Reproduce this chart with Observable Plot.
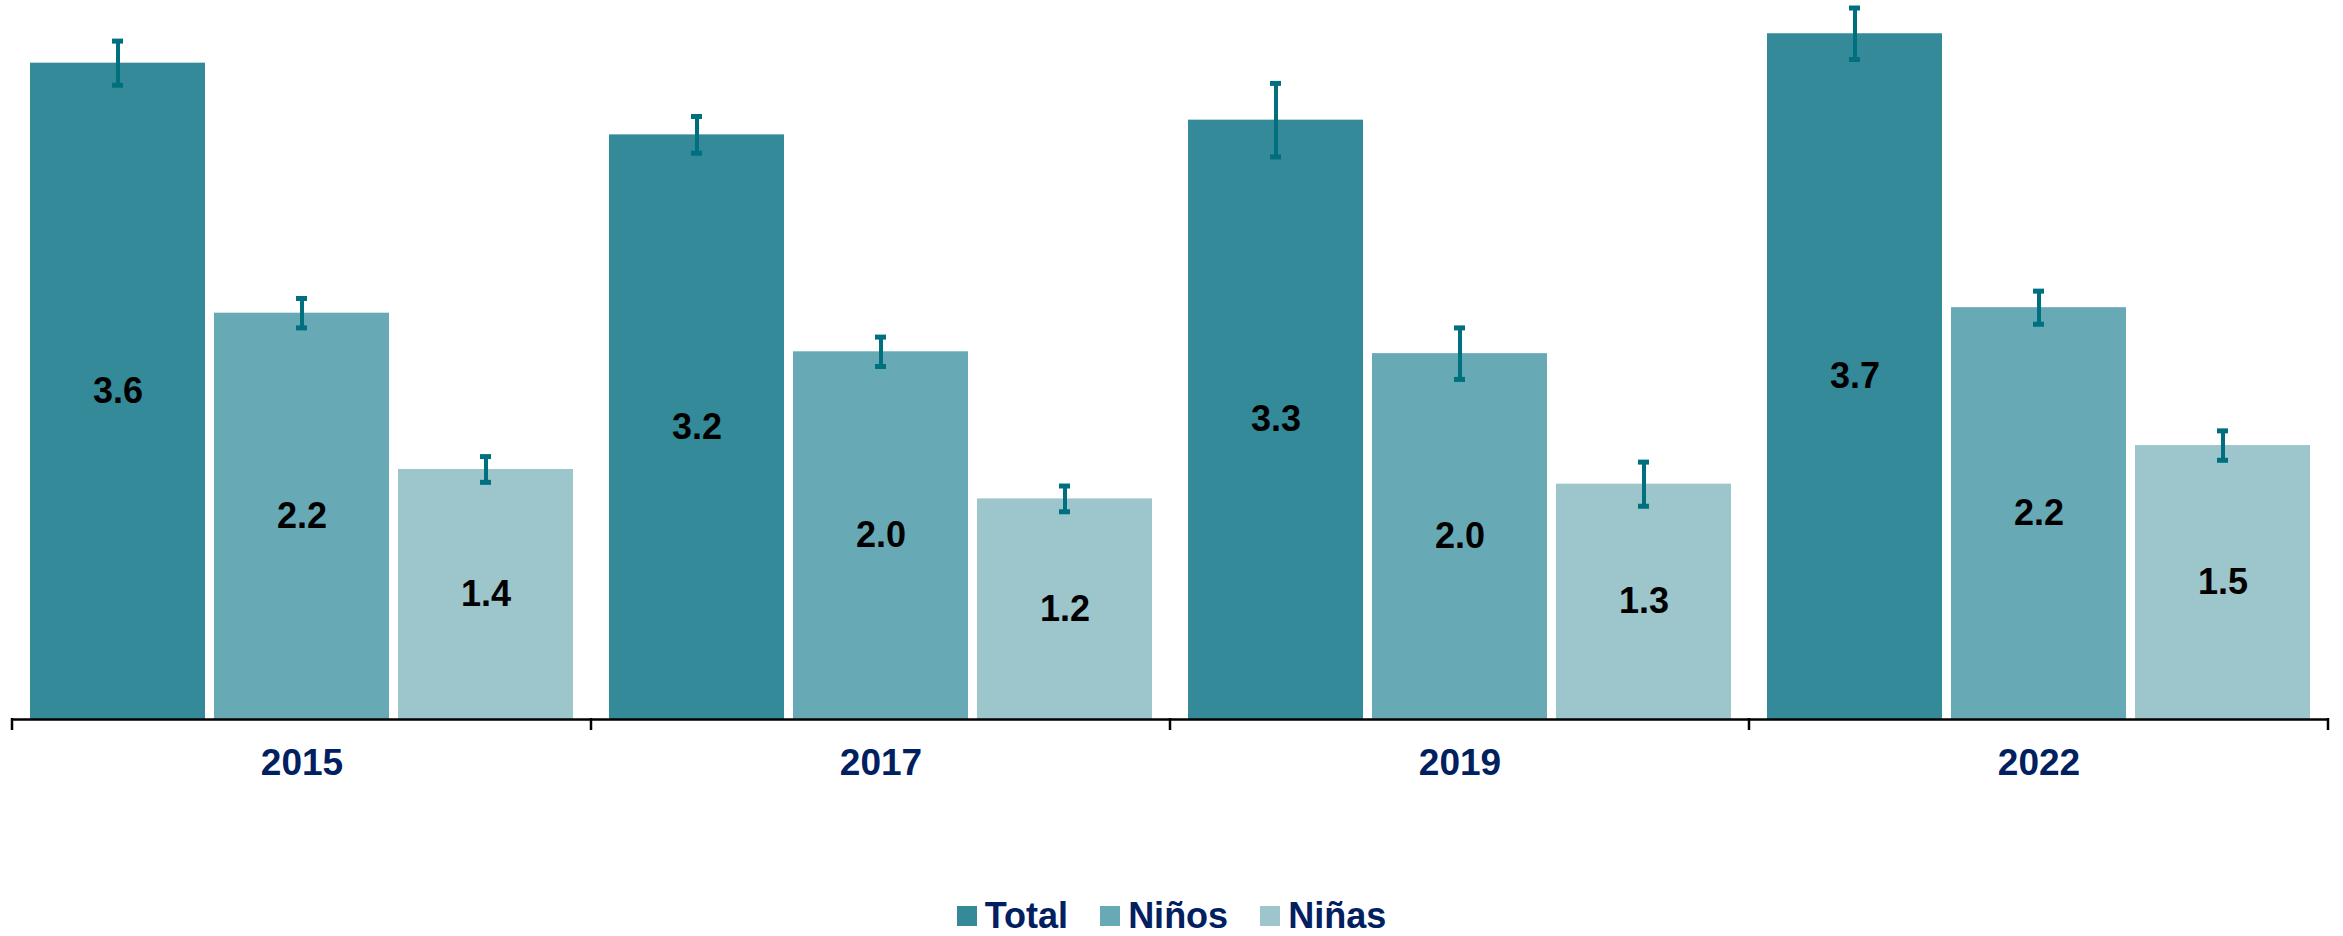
<!DOCTYPE html>
<html>
<head>
<meta charset="utf-8">
<script src="https://cdn.jsdelivr.net/npm/d3@7"></script>
<script src="https://cdn.jsdelivr.net/npm/@observablehq/plot@0.6"></script>
<style>
  body { margin: 0; background: #fff; font-family: "Liberation Sans", Arial, sans-serif; }
  #legend { display: flex; justify-content: center; align-items: center; gap: 32px; padding-top: 96px; height: 40px; }
  .item { display: flex; align-items: center; gap: 8px; font-weight: bold; font-size: 36px; color: #002060; line-height: 40px; }
  .sw { width: 20px; height: 20px; display: inline-block; }
</style>
</head>
<body>
<div id="chart"></div>
<div id="legend"></div>
<script>
const years = ["2015", "2017", "2019", "2022"];
const series = ["Total", "Niños", "Niñas"];
const totalValues = [3.57, 3.18, 3.26, 3.73];
const ninosValues = [2.21, 2.00, 1.99, 2.24];
const ninasValues = [1.36, 1.20, 1.28, 1.49];
const totalErr = [0.12, 0.10, 0.20, 0.14];
const ninosErr = [0.08, 0.08, 0.14, 0.09];
const ninasErr = [0.07, 0.07, 0.12, 0.08];
const colors = ["#348A99", "#67A9B5", "#9CC5CC"];
const errColor = "#006F7E";

const valuesBySeries = [totalValues, ninosValues, ninasValues];
const errBySeries = [totalErr, ninosErr, ninasErr];
const data = [];
years.forEach((year, i) => {
  series.forEach((s, j) => {
    data.push({year, series: s, value: valuesBySeries[j][i], err: errBySeries[j][i]});
  });
});

const font = '"Liberation Sans", Arial, sans-serif';
const chart = Plot.plot({
  width: 2343,
  height: 800,
  marginLeft: 12,
  marginRight: 15,
  marginTop: 2,
  marginBottom: 81,
  style: {fontFamily: font, background: "white"},
  fx: {domain: years, padding: 0, label: null},
  x: {domain: series, paddingInner: 0.05, paddingOuter: 0.09, axis: null},
  y: {domain: [0, 3.9], axis: null},
  color: {domain: series, range: colors},
  marks: [
    Plot.barY(data, {fx: "year", x: "series", y: "value", fill: "series"}),
    Plot.ruleX(data, {fx: "year", x: "series", y1: d => d.value - d.err, y2: d => d.value + d.err, stroke: errColor, strokeWidth: 4}),
    Plot.tickY(data, {fx: "year", x: "series", y: d => d.value - d.err, stroke: errColor, strokeWidth: 5, insetLeft: 82, insetRight: 82}),
    Plot.tickY(data, {fx: "year", x: "series", y: d => d.value + d.err, stroke: errColor, strokeWidth: 5, insetLeft: 82, insetRight: 82}),
    Plot.text(data, {fx: "year", x: "series", y: d => d.value / 2, text: d => d.value.toFixed(1), fontSize: 36, fontWeight: "bold", fill: "black"}),
    Plot.ruleY([0], {stroke: "black", strokeWidth: 2.5}),
    Plot.axisFx({anchor: "bottom", tickSize: 0, tickPadding: 29, fontSize: 37, fontWeight: "bold", color: "#002060", label: null})
  ]
});

// boundary ticks between categories, derived from the fx scale
const fxs = chart.scale("fx");
const ys = chart.scale("y");
const y0 = ys.apply(0);
const svg = d3.select(chart.tagName.toLowerCase() === "svg" ? chart : chart.querySelector("svg"));
const bounds = d3.range(years.length + 1).map(i => fxs.range[0] + i * fxs.step);
svg.append("g")
  .selectAll("line")
  .data(bounds)
  .join("line")
  .attr("x1", d => d).attr("x2", d => d)
  .attr("y1", y0 - 1).attr("y2", y0 + 11)
  .attr("stroke", "black")
  .attr("stroke-width", 2.5);

document.getElementById("chart").append(chart);

const legend = d3.select("#legend");
series.forEach((s, j) => {
  const it = legend.append("div").attr("class", "item");
  it.append("span").attr("class", "sw").style("background", colors[j]);
  it.append("span").text(s);
});
</script>
</body>
</html>
